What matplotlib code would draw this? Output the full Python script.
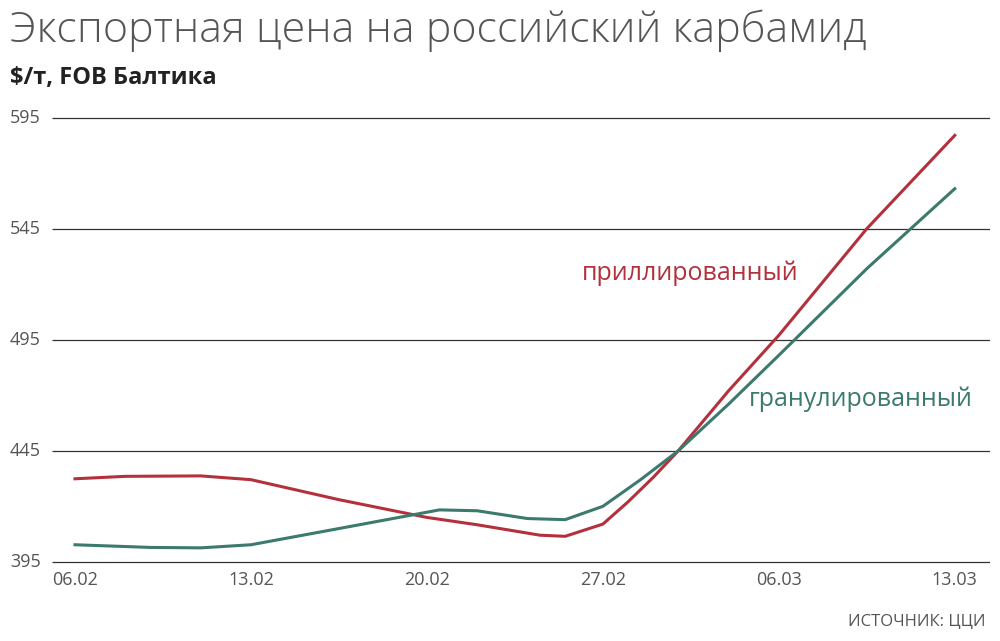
import matplotlib
matplotlib.use("Agg")
import matplotlib.pyplot as plt

red_days = [0, 2, 5, 7, 10.5, 14, 16, 18.5, 19.5, 21, 22, 23, 24, 26, 28, 31.5, 35]
red_vals = [432.4, 433.5, 433.7, 432, 423, 415, 411.7, 407, 406.5, 412, 422, 433, 445, 472, 497, 545, 587]
grn_days = [0, 3, 5, 7, 10.5, 14.5, 16, 18, 19.5, 21, 22.5, 24, 26, 28, 31.5, 35]
grn_vals = [402.7, 401.5, 401.3, 402.7, 410, 418.4, 418, 414.5, 414, 420, 432, 445, 466, 488, 527, 563]
xticks = [0, 7, 14, 21, 28, 35]
xlabels = ["06.02", "13.02", "20.02", "27.02", "06.03", "13.03"]
yticks = [395, 445, 495, 545, 595]

RED = "#b3313c"; GRN = "#3b7a6c"; GRAY = "#555555"
plt.rcParams['font.family'] = ['Open Sans', 'DejaVu Sans']
fig = plt.figure(figsize=(10, 6.41), dpi=100)
ax = fig.add_axes([0.01, 0.12, 0.98, 0.70])
ax.set_xlim(-2.585, 36.4)
ax.set_ylim(394, 596)
for y in yticks:
    ax.hlines(y, -0.9, 36.4, color="#333333", lw=0.9)
    ax.text(-2.585, y, str(y), va="center", ha="left", fontsize=13, color=GRAY)
ax.plot(red_days, red_vals, color=RED, lw=2.2)
ax.plot(grn_days, grn_vals, color=GRN, lw=2.2)
for d, l in zip(xticks, xlabels):
    ax.text(d, 391, l, ha="center", va="top", fontsize=13, color=GRAY)
ax.text(28.8, 525, "приллированный", color=RED, fontsize=18, ha="right", va="center")
ax.text(35.7, 468, "гранулированный", color=GRN, fontsize=18, ha="right", va="center")
ax.axis("off")
fig.text(0.01, 0.952, "Экспортная цена на российский карбамид", fontsize=31, fontweight="light", color="#555555", va="center")
fig.text(0.01, 0.878, "$/т, FOB Балтика", fontsize=17, fontweight="bold", color="#222222", va="center")
fig.text(0.985, 0.03, "ИСТОЧНИК: ЦЦИ", fontsize=12, color=GRAY, ha="right", va="center")
fig.savefig("out.png", dpi=100)
